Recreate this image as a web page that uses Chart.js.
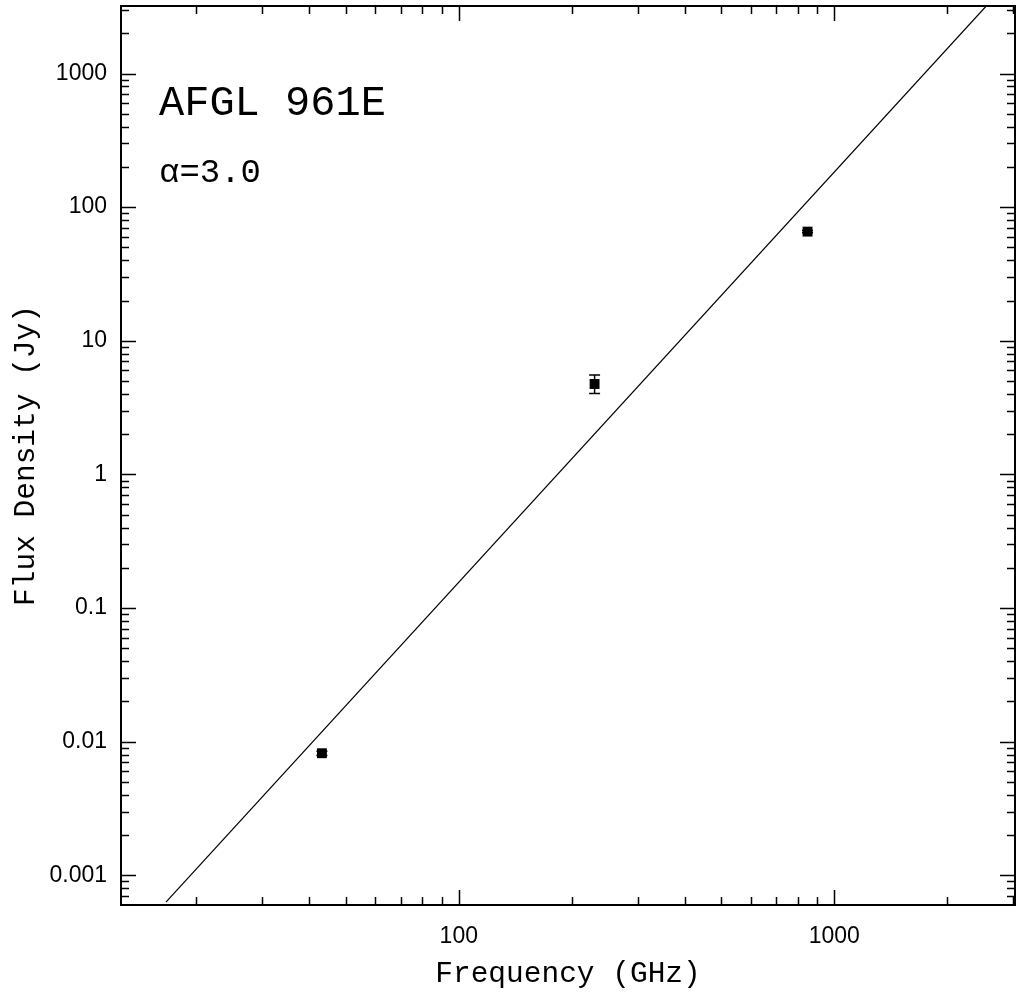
<!DOCTYPE html>
<html>
<head>
<meta charset="utf-8">
<script src="https://cdn.jsdelivr.net/npm/chart.js@4/dist/chart.umd.min.js"></script>
<style>
  html, body { margin: 0; padding: 0; background: #fff; }
  #wrap { width: 1016px; height: 997px; position: relative; }
</style>
</head>
<body>
<div id="wrap"><canvas id="sedChart"></canvas></div>
<script>
// measured fluxes (GHz, Jy) with error bounds
var freqs = [43.2, 230, 849];
var fluxes = [0.0082, 4.75, 65.6];
var fluxLo = [0.0079, 4.03, 64.3];
var fluxHi = [0.0085, 5.55, 67.0];

// fitted power law, end points where it meets the frame
var fitFreqs = [16.6, 2540];
var fitFluxes = [0.00063, 3200];

// axis ranges and labelled ticks
var xRange = [12.6, 3030];
var yRange = [0.00063, 3200];
var xTickValues = [100, 1000];
var xTickLabels = ['100', '1000'];
var yTickValues = [0.001, 0.01, 0.1, 1, 10, 100, 1000];
var yTickLabels = ['0.001', '0.01', '0.1', '1', '10', '100', '1000'];

var sourceName = 'AFGL 961E';
var alphaLabel = 'α=3.0';

function logMinors(min, max) {
  var out = [];
  var start = Math.floor(Math.log10(min)), end = Math.ceil(Math.log10(max));
  for (var p = start; p <= end; p++) {
    for (var m = 1; m <= 9; m++) {
      var v = m * Math.pow(10, p);
      if (v >= min && v <= max) out.push({ v: v, major: m === 1 });
    }
  }
  return out;
}

function noPad(s) {
  s.paddingTop = 0; s.paddingBottom = 0; s.paddingLeft = 0; s.paddingRight = 0;
}

// frame with inward ticks on all four sides
var framePlugin = {
  id: 'frame',
  afterDraw: function (chart) {
    var ctx = chart.ctx, a = chart.chartArea;
    var xs = chart.scales.x, ys = chart.scales.y;
    ctx.save();
    ctx.strokeStyle = '#000';
    ctx.lineWidth = 1.5;
    logMinors(xRange[0], xRange[1]).forEach(function (t) {
      var px = Math.round(xs.getPixelForValue(t.v)) + 0.5;
      var len = t.major ? 15 : 8;
      ctx.beginPath();
      ctx.moveTo(px, a.bottom); ctx.lineTo(px, a.bottom - len);
      ctx.moveTo(px, a.top); ctx.lineTo(px, a.top + len);
      ctx.stroke();
    });
    logMinors(yRange[0], yRange[1]).forEach(function (t) {
      var py = Math.round(ys.getPixelForValue(t.v)) + 0.5;
      var len = t.major ? 15 : 8;
      ctx.beginPath();
      ctx.moveTo(a.left, py); ctx.lineTo(a.left + len, py);
      ctx.moveTo(a.right, py); ctx.lineTo(a.right - len, py);
      ctx.stroke();
    });
    ctx.lineWidth = 2;
    ctx.strokeRect(a.left, a.top, a.right - a.left, a.bottom - a.top);

    // labels inside the panel
    ctx.fillStyle = '#000';
    ctx.textAlign = 'left';
    ctx.textBaseline = 'alphabetic';
    ctx.font = '42px "Liberation Mono"';
    ctx.fillText(sourceName, a.left + 38, 115);
    ctx.font = '34px "Liberation Mono"';
    ctx.fillText(alphaLabel, a.left + 38, 182);
    ctx.restore();
  }
};

// vertical error bars with caps
var errorBarPlugin = {
  id: 'errorBars',
  afterDatasetsDraw: function (chart) {
    var ctx = chart.ctx, xs = chart.scales.x, ys = chart.scales.y;
    ctx.save();
    ctx.strokeStyle = '#000';
    ctx.lineWidth = 1.5;
    for (var i = 0; i < freqs.length; i++) {
      var px = xs.getPixelForValue(freqs[i]);
      var yl = ys.getPixelForValue(fluxLo[i]);
      var yh = ys.getPixelForValue(fluxHi[i]);
      ctx.beginPath();
      ctx.moveTo(px, yl); ctx.lineTo(px, yh);
      ctx.moveTo(px - 5.5, yl); ctx.lineTo(px + 5.5, yl);
      ctx.moveTo(px - 5.5, yh); ctx.lineTo(px + 5.5, yh);
      ctx.stroke();
    }
    ctx.restore();
  }
};

var ctx = document.getElementById('sedChart').getContext('2d');
var chart = new Chart(ctx, {
  type: 'scatter',
  data: {
    datasets: [{
      type: 'line',
      label: 'fit',
      data: fitFreqs.map(function (f, i) { return { x: f, y: fitFluxes[i] }; }),
      borderColor: '#000',
      borderWidth: 1.2,
      pointRadius: 0,
      fill: false
    }, {
      label: 'data',
      data: freqs.map(function (f, i) { return { x: f, y: fluxes[i] }; }),
      pointStyle: 'rect',
      pointRadius: 7,
      backgroundColor: '#000',
      borderColor: '#000',
      borderWidth: 0
    }]
  },
  options: {
    responsive: true,
    maintainAspectRatio: false,
    animation: false,
    events: [],
    layout: { autoPadding: false, padding: { top: 6, right: 1, left: 0, bottom: 0 } },
    plugins: { legend: { display: false }, tooltip: { enabled: false } },
    scales: {
      x: {
        type: 'logarithmic',
        position: 'bottom',
        min: xRange[0],
        max: xRange[1],
        grid: { display: false, drawTicks: false },
        border: { display: false },
        afterBuildTicks: function (s) { s.ticks = xTickValues.map(function (v) { return { value: v }; }); },
        afterFit: function (s) { s.height = 92; noPad(s); },
        ticks: {
          padding: 18,
          maxRotation: 0,
          autoSkip: false,
          color: '#000',
          font: { family: '"Liberation Sans", Arial, sans-serif', size: 23 },
          callback: function (v) { var i = xTickValues.indexOf(v); return i >= 0 ? xTickLabels[i] : ''; }
        },
        title: {
          display: true,
          text: 'Frequency (GHz)',
          color: '#000',
          font: { family: '"Liberation Mono", monospace', size: 29.5 },
          padding: { top: 0, bottom: 5 }
        }
      },
      y: {
        type: 'logarithmic',
        position: 'left',
        min: yRange[0],
        max: yRange[1],
        grid: { display: false, drawTicks: false },
        border: { display: false },
        afterBuildTicks: function (s) { s.ticks = yTickValues.map(function (v) { return { value: v }; }); },
        afterFit: function (s) { s.width = 121; noPad(s); },
        ticks: {
          padding: 14,
          autoSkip: false,
          color: '#000',
          font: { family: '"Liberation Sans", Arial, sans-serif', size: 23 },
          callback: function (v) { var i = yTickValues.indexOf(v); return i >= 0 ? yTickLabels[i] : ''; }
        },
        title: {
          display: true,
          text: 'Flux Density (Jy)',
          color: '#000',
          font: { family: '"Liberation Mono", monospace', size: 29.5 },
          padding: { top: 8, bottom: 0 }
        }
      }
    }
  },
  plugins: [errorBarPlugin, framePlugin]
});
</script>
</body>
</html>
